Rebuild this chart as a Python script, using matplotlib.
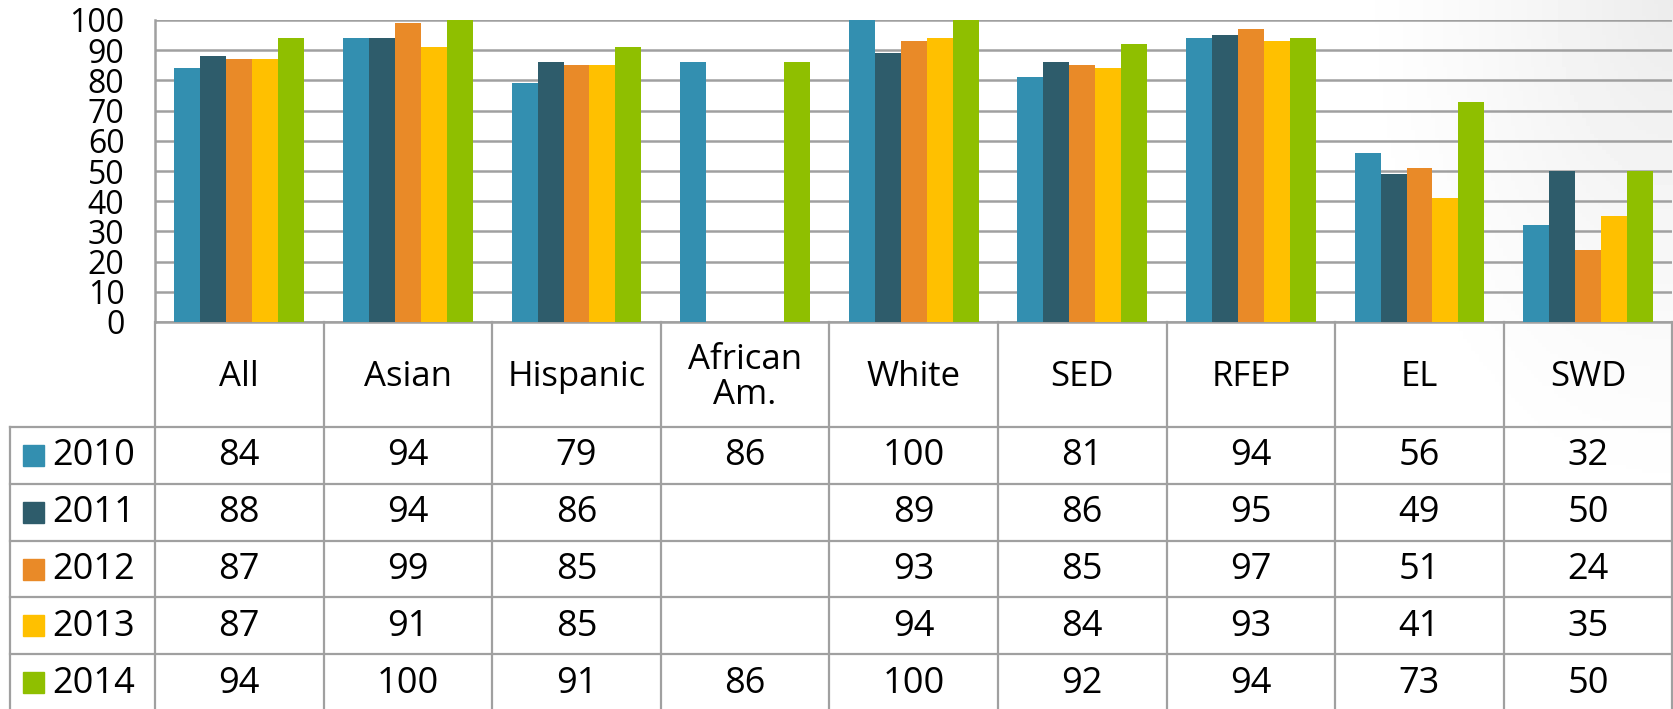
import numpy as np
import matplotlib.pyplot as plt

plt.rcParams['font.family'] = ['Open Sans', 'DejaVu Sans']

categories = ['All', 'Asian', 'Hispanic', 'African\nAm.', 'White', 'SED', 'RFEP', 'EL', 'SWD']
years = ['2010', '2011', '2012', '2013', '2014']
v2010 = [84, 94, 79, 86, 100, 81, 94, 56, 32]
v2011 = [88, 94, 86, np.nan, 89, 86, 95, 49, 50]
v2012 = [87, 99, 85, np.nan, 93, 85, 97, 51, 24]
v2013 = [87, 91, 85, np.nan, 94, 84, 93, 41, 35]
v2014 = [94, 100, 91, 86, 100, 92, 94, 73, 50]
series = [v2010, v2011, v2012, v2013, v2014]
colors = ['#338FB0', '#2E5C6B', '#E98A28', '#FFC000', '#8FBF00']
yticks = list(range(0, 101, 10))

# layout in pixels
FW, FH = 1674, 709
P_LEFT, CAT_W = 155, 168.6
P_TOP, P_BOT = 20, 322
HEAD_BOT, ROW_H = 427, 56.8
T_LEFT = 10
GRID = '#A0A0A0'
P_RIGHT = P_LEFT + CAT_W * len(categories)

fig = plt.figure(figsize=(FW / 100, FH / 100), dpi=100)

# faint grey glow from the top-right corner
bg = fig.add_axes([0, 0, 1, 1], zorder=-10)
gx, gy = np.meshgrid(np.linspace(0, FW, 420), np.linspace(0, FH, 180))
d = np.hypot(gx - FW, gy / 1.6)
shade = 1 - 0.075 * np.clip(1 - d / 330, 0, 1) ** 1.3
bg.imshow(shade, cmap='gray', vmin=0, vmax=1, aspect='auto',
          extent=[0, FW, FH, 0])
bg.axis('off')

ax = fig.add_axes([P_LEFT / FW, 1 - P_BOT / FH, (P_RIGHT - P_LEFT) / FW,
                   (P_BOT - P_TOP) / FH])
ax.patch.set_alpha(0)
x = np.arange(len(categories)) + 0.5
bw = 0.154
for i, vals in enumerate(series):
    ax.bar(x + (i - 2) * bw, vals, width=bw, color=colors[i], zorder=3)
ax.set_xlim(0, len(categories))
ax.set_ylim(0, 100)
ax.set_yticks(yticks)
ax.set_yticklabels([str(t) for t in yticks], fontsize=23)
ax.tick_params(axis='y', length=0, pad=22)
ax.set_xticks([])
ax.yaxis.grid(True, color=GRID, linewidth=1.8, zorder=0)
for s in ['top', 'right']:
    ax.spines[s].set_visible(False)
for s in ['left', 'bottom']:
    ax.spines[s].set_color(GRID)
    ax.spines[s].set_linewidth(1.8)

# data table below
tax = fig.add_axes([0, 0, 1, 1])
tax.set_xlim(0, FW)
tax.set_ylim(FH, 0)
tax.axis('off')
tax.patch.set_alpha(0)
n_rows = len(years)
t_bottom = HEAD_BOT + ROW_H * n_rows + 5
lw = 1.6
for k in range(len(categories) + 1):
    xv = P_LEFT + k * CAT_W
    tax.plot([xv, xv], [P_BOT, t_bottom], color=GRID, lw=lw)
tax.plot([T_LEFT, T_LEFT], [HEAD_BOT, t_bottom], color=GRID, lw=lw)
for r in range(n_rows):
    yv = HEAD_BOT + r * ROW_H
    tax.plot([T_LEFT, P_RIGHT], [yv, yv], color=GRID, lw=lw)

for c, name in enumerate(categories):
    cx = P_LEFT + (c + 0.5) * CAT_W
    tax.text(cx, (P_BOT + HEAD_BOT) / 2 + 3, name, ha='center', va='center',
             fontsize=25, linespacing=1.05)
    for r, vals in enumerate(series):
        v = vals[c]
        if not np.isnan(v):
            tax.text(cx, HEAD_BOT + (r + 0.5) * ROW_H + 1, str(int(v)),
                     ha='center', va='center', fontsize=26)

for r, yr in enumerate(years):
    cy = HEAD_BOT + (r + 0.5) * ROW_H
    tax.add_patch(plt.Rectangle((23, cy - 10.5), 21, 21, color=colors[r]))
    tax.text(52, cy + 1, yr, ha='left', va='center', fontsize=26)

fig.savefig('out.png', dpi=100)
